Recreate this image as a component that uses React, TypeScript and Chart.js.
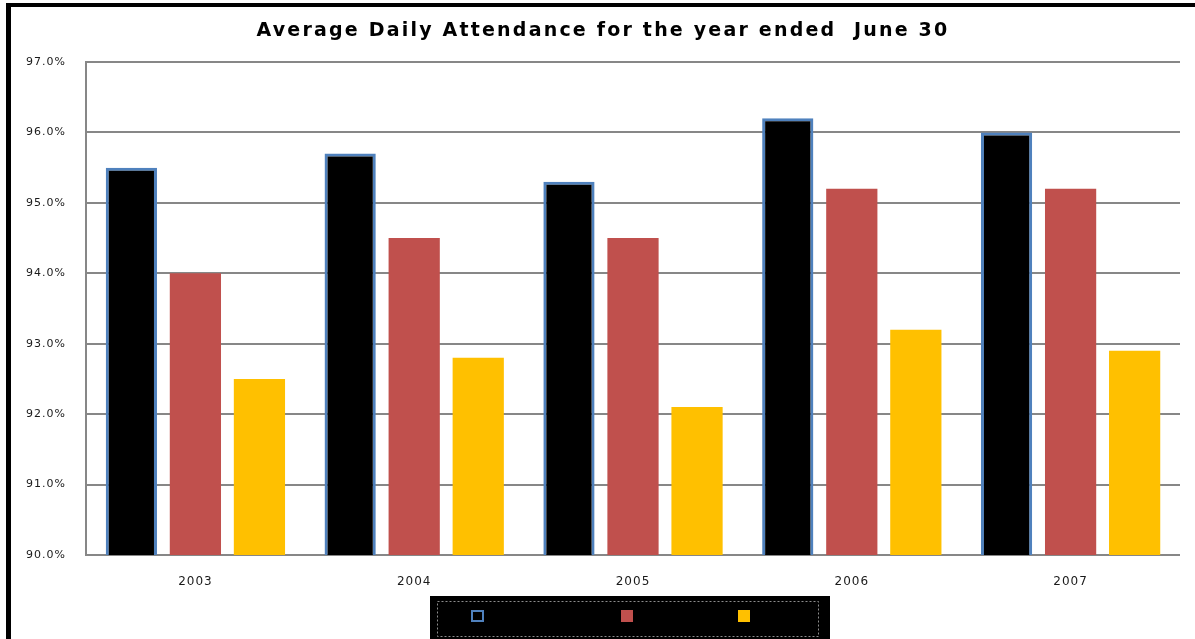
import React, { useEffect, useRef } from "react";
import { Chart, registerables } from "chart.js";

Chart.register(...registerables);

const chartTitle = "Average Daily Attendance for the year ended  June 30";
const years = ["2003", "2004", "2005", "2006", "2007"];
const seriesNames = ["School", "District", "State"];
const schoolValues = [95.5, 95.7, 95.3, 96.2, 96.0];
const districtValues = [94.0, 94.5, 94.5, 95.2, 95.2];
const stateValues = [92.5, 92.8, 92.1, 93.2, 92.9];
const yMin = 90;
const yMax = 97;
const yStep = 1;

const framePlugin = {
  id: "frame",
  beforeDraw(chart: any) {
    const ctx = chart.ctx;
    ctx.save();
    ctx.fillStyle = "#ffffff";
    ctx.fillRect(0, 0, chart.width, chart.height);
    ctx.fillStyle = "#000000";
    ctx.fillRect(6, 3, chart.width - 6, 4);
    ctx.fillRect(6, 3, 5, chart.height - 3);
    ctx.restore();
    ctx.letterSpacing = "1px";
  },
  afterDraw(chart: any) {
    const ctx = chart.ctx;
    ctx.save();
    // title
    ctx.letterSpacing = "2.2px";
    ctx.font = "bold 19px 'DejaVu Sans'";
    ctx.fillStyle = "#000000";
    ctx.textAlign = "center";
    ctx.textBaseline = "middle";
    ctx.fillText(chartTitle, 603, 31);
    ctx.letterSpacing = "0px";
    // legend
    ctx.fillStyle = "#000000";
    ctx.fillRect(430, 596, 400, chart.height - 596);
    ctx.strokeStyle = "#8c8c8c";
    ctx.lineWidth = 1;
    ctx.setLineDash([2, 2]);
    ctx.strokeRect(437.5, 601.5, 381, 35);
    ctx.setLineDash([]);
    const xs = [471, 621, 738];
    chart.data.datasets.forEach((ds: any, i: number) => {
      const x = xs[i];
      ctx.fillStyle = ds.backgroundColor;
      ctx.fillRect(x, 610, 12, 12);
      if (ds.borderWidth) {
        ctx.strokeStyle = ds.borderColor;
        ctx.lineWidth = 2;
        ctx.strokeRect(x + 1, 611, 11, 10);
      }
      ctx.fillStyle = "#000000";
      ctx.font = "11px 'DejaVu Sans'";
      ctx.textAlign = "left";
      ctx.fillText(ds.label, x + 18, 616);
    });
    ctx.restore();
  },
};

export default function App() {
  const ref = useRef<HTMLCanvasElement>(null);
  useEffect(() => {
    if (!ref.current) return;
    const chart = new Chart(ref.current, {
      type: "bar",
      data: {
        labels: years,
        datasets: [
          {
            label: seriesNames[0],
            data: schoolValues,
            backgroundColor: "#000000",
            borderColor: "#4f81bd",
            borderWidth: 3,
            borderSkipped: false,
          },
          {
            label: seriesNames[1],
            data: districtValues,
            backgroundColor: "#c0504d",
            borderWidth: 0,
          },
          {
            label: seriesNames[2],
            data: stateValues,
            backgroundColor: "#ffc000",
            borderWidth: 0,
          },
        ],
      },
      options: {
        responsive: false,
        animation: false,
        devicePixelRatio: 1,
        layout: { padding: { left: 12, right: 15, top: 62, bottom: 44 } },
        datasets: { bar: { categoryPercentage: 0.878, barPercentage: 0.8 } },
        plugins: {
          legend: { display: false },
          title: { display: false },
          tooltip: { enabled: false },
        },
        scales: {
          x: {
            grid: { display: false },
            border: { display: false },
            ticks: {
              color: "#1a1a1a",
              font: { family: "'DejaVu Sans'", size: 12 },
              padding: 12,
            },
            afterFit: (scale: any) => {
              scale.height = 40;
            },
          },
          y: {
            min: yMin,
            max: yMax,
            grid: { color: "#878787", lineWidth: 2, drawTicks: false },
            border: { display: true, color: "#878787", width: 2 },
            ticks: {
              stepSize: yStep,
              color: "#1a1a1a",
              font: { family: "'DejaVu Sans'", size: 11 },
              padding: 20,
              callback: (v: any) => Number(v).toFixed(1) + "%",
            },
            afterFit: (scale: any) => {
              scale.width = 74;
            },
          },
        },
      },
      plugins: [framePlugin],
    });
    return () => chart.destroy();
  }, []);
  return (
    <div style={{ position: "fixed", left: 0, top: 0, width: 1195, height: 639 }}>
      <canvas ref={ref} width={1195} height={639} style={{ width: 1195, height: 639 }} />
    </div>
  );
}
